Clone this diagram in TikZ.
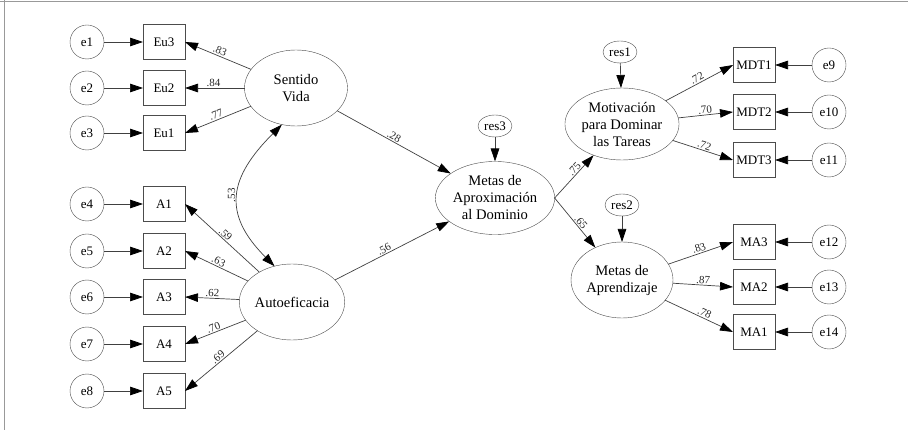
\documentclass[tikz,border=0pt]{standalone}
\usepackage{fontspec}
\setmainfont{Liberation Serif}
\usepackage{tikz}
\usetikzlibrary{positioning,calc,arrows.meta,shapes.geometric}
\tikzstyle{line} = [draw=black!75,line width=0.7pt]
\tikzstyle{obs} = [draw=black!70,rectangle,fill=white,minimum width=42pt,minimum height=35pt,inner sep=1pt,outer sep=0pt,font=\fontsize{13}{15}\selectfont]
\tikzstyle{err} = [draw=black!70,circle,fill=white,minimum size=34pt,inner sep=0pt,outer sep=0pt,font=\fontsize{13}{15}\selectfont]
\tikzstyle{res} = [draw=black!70,ellipse,fill=white,minimum width=34pt,minimum height=22pt,inner sep=0pt,outer sep=0pt,font=\fontsize{13}{15}\selectfont]
\tikzstyle{lat} = [draw=black!70,ellipse,fill=white,minimum width=103pt,minimum height=76pt,inner sep=0pt,outer sep=0pt,align=center,font=\fontsize{14.6}{17}\selectfont]
\tikzstyle{coef} = [font=\fontsize{11}{12}\selectfont,inner sep=1pt,text=black!85]

\begin{document}
\begin{tikzpicture}[x=1pt,y=1pt,>={Triangle[length=13pt,width=8.5pt,color=black]}]
            \useasboundingbox (0,0) rectangle (908,-430);
            \draw[black!40,line width=0.8pt] (0,-1) -- (908,-1);
            \draw[black!40,line width=0.8pt] (4,0) -- (4,-430);

          \node[lat] (sentido) at (296,-88) {Sentido\\Vida};
          \node[lat] (autoef) at (292,-302) {Autoeficacia};
          \node[lat,minimum width=117pt,minimum height=73pt] (metasaprox) at (495,-198) {Metas de\\Aproximación\\al Dominio};
          \node[lat,minimum height=72pt] (motiv) at (622,-124) {Motivación\\para Dominar\\las Tareas};
          \node[lat,minimum width=102pt] (aprend) at (622,-280) {Metas de\\Aprendizaje};

          \node[res] (res3) at (495,-126) {res3};
          \node[res] (res1) at (620,-52) {res1};
          \node[res] (res2) at (622,-205) {res2};

          \node[obs] (eu3) at (164,-42) {Eu3};
          \node[obs] (eu2) at (164,-88) {Eu2};
          \node[obs] (eu1) at (164,-133) {Eu1};
          \node[obs] (a1) at (164,-204) {A1};
          \node[obs] (a2) at (164,-251) {A2};
          \node[obs] (a3) at (164,-297) {A3};
          \node[obs] (a4) at (164,-344) {A4};
          \node[obs] (a5) at (164,-391) {A5};

          \node[obs] (mdt1) at (754,-65) {MDT1};
          \node[obs] (mdt2) at (754,-112) {MDT2};
          \node[obs] (mdt3) at (754,-160) {MDT3};
          \node[obs] (ma3) at (754,-242) {MA3};
          \node[obs] (ma2) at (754,-287) {MA2};
          \node[obs] (ma1) at (754,-332) {MA1};

          \node[err,left=39pt of eu3] (e1) {e1};
          \node[err,left=39pt of eu2] (e2) {e2};
          \node[err,left=39pt of eu1] (e3) {e3};
          \node[err,left=39pt of a1] (e4) {e4};
          \node[err,left=39pt of a2] (e5) {e5};
          \node[err,left=39pt of a3] (e6) {e6};
          \node[err,left=39pt of a4] (e7) {e7};
          \node[err,left=39pt of a5] (e8) {e8};
          \node[err,right=37pt of mdt1] (e9) {e9};
          \node[err,right=37pt of mdt2] (e10) {e10};
          \node[err,right=37pt of mdt3] (e11) {e11};
          \node[err,right=37pt of ma3] (e12) {e12};
          \node[err,right=37pt of ma2] (e13) {e13};
          \node[err,right=37pt of ma1] (e14) {e14};

          \foreach \from/\to in {e1/eu3,e2/eu2,e3/eu1,e4/a1,e5/a2,e6/a3,e7/a4,e8/a5,e9/mdt1,e10/mdt2,e11/mdt3,e12/ma3,e13/ma2,e14/ma1,res3/metasaprox,res1/motiv,res2/aprend}
            \draw[line,->] (\from) -- (\to);

          \draw[line,->] (sentido) -- node[coef,pos=.5,above,sloped] {.83} (eu3.east);
          \draw[line,->] (sentido) -- node[coef,pos=.52,above,sloped] {.84} (eu2.east);
          \draw[line,->] (sentido) -- node[coef,pos=.5,above,sloped] {.77} (eu1.east);
          \draw[line,->] (autoef) -- node[coef,pos=.5,above,sloped] {.59} (a1.east);
          \draw[line,->] (autoef) -- node[coef,pos=.5,above,sloped] {.63} (a2.east);
          \draw[line,->] (autoef) -- node[coef,pos=.5,above,sloped] {.62} (a3.east);
          \draw[line,->] (autoef) -- node[coef,pos=.5,above,sloped] {.70} (a4.east);
          \draw[line,->] (autoef) -- node[coef,pos=.5,above,sloped] {.69} (a5.east);
          \draw[line,<->] (autoef.116) to[out=135,in=225,looseness=1.35] coordinate[midway] (mid53) (sentido.249);
          \node[coef,rotate=90,anchor=south] (lbl53) at ([xshift=-2pt]mid53) {.53};

          \draw[line,->] (sentido) -- node[coef,pos=.48,above,sloped] {.28} (metasaprox);
          \draw[line,->] (autoef) -- node[coef,pos=.45,above,sloped] {.56} (metasaprox);
          \draw[line,->] (metasaprox.east) -- node[coef,pos=.6,above,sloped] {.75} (motiv);
          \draw[line,->] (metasaprox.east) -- node[coef,pos=.55,above,sloped] {.65} (aprend);

          \draw[line,->] (motiv) -- node[coef,pos=.5,above,sloped] {.72} (mdt1.west);
          \draw[line,->] (motiv) -- node[coef,pos=.5,above,sloped] {.70} (mdt2.west);
          \draw[line,->] (motiv) -- node[coef,pos=.5,above,sloped] {.72} (mdt3.west);
          \draw[line,->] (aprend) -- node[coef,pos=.5,above,sloped] {.83} (ma3.west);
          \draw[line,->] (aprend) -- node[coef,pos=.5,above,sloped] {.87} (ma2.west);
          \draw[line,->] (aprend) -- node[coef,pos=.55,above,sloped] {.78} (ma1.west);
        \end{tikzpicture}
\end{document}
